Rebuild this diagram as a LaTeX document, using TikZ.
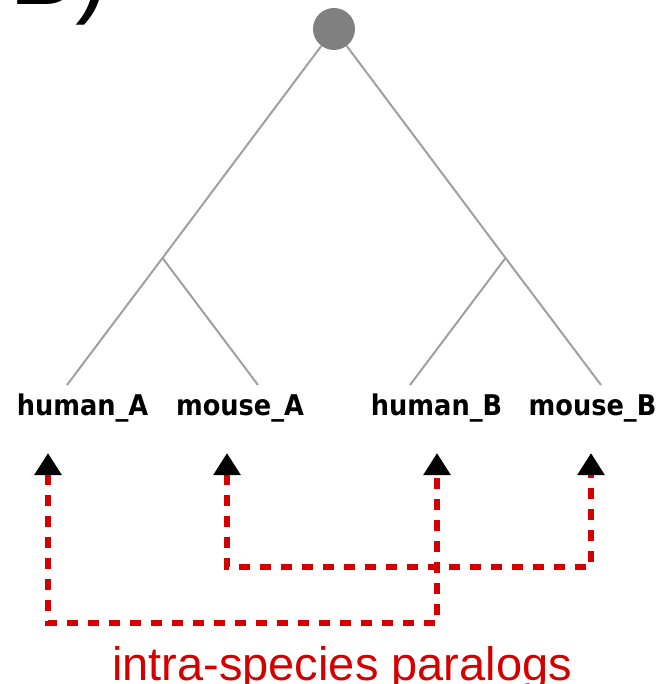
\documentclass[tikz,border=0pt]{standalone}
\usepackage{fontspec}
\setmainfont{Liberation Sans}
\newfontfamily\leaffont{DejaVu Sans Condensed}
\usepackage{xcolor}
\usepackage{tikz}
\usetikzlibrary{arrows.meta}
\usetikzlibrary{positioning}
\definecolor{paralogred}{RGB}{212,0,0}
\definecolor{branchgray}{RGB}{160,160,160}
\definecolor{rootgray}{RGB}{128,128,128}

\begin{document}
\begin{tikzpicture}[
  x=1pt, y=-1pt,
  root/.style={circle, fill=rootgray, minimum size=42pt, inner sep=0pt},
  leaf/.style={anchor=base, inner sep=0pt, font=\leaffont\bfseries\fontsize{28.5}{30}\selectfont},
  level 1/.style={level distance=229pt, sibling distance=343pt},
  level 2/.style={level distance=127pt, sibling distance=191pt},
  edge from parent/.style={draw, branchgray, line width=2pt},
  paralog/.style={draw=paralogred, line width=6pt, dash pattern=on 11pt off 10pt,
    {Triangle[width=26pt,length=22pt,black]}-{Triangle[width=26pt,length=22pt,black]}}
]
\useasboundingbox (0,0) rectangle (665,684);
\node[anchor=base west, inner sep=0pt, font=\fontsize{100}{100}\selectfont] (panel) at (9,5) {B)};

\node[root] (root) at (334,29) {}
  child { coordinate (inA)
    child { coordinate (hA) }
    child { coordinate (mA) }
  }
  child { coordinate (inB)
    child { coordinate (hB) }
    child { coordinate (mB) }
  };

\node[leaf] (labHA) at (82.5,415) {human\_A};
\node[leaf] (labMA) at (240,415) {mouse\_A};
\node[leaf] (labHB) at (436.5,415) {human\_B};
\node[leaf] (labMB) at (592.5,415) {mouse\_B};

\coordinate (tipHA) at (48,453);
\coordinate (tipMA) at (227,453);
\coordinate (tipHB) at (437,453);
\coordinate (tipMB) at (591,453);

\draw[paralog] (tipMA) -- ++(0,114) -| (tipMB);
\draw[paralog] (tipHA) -- ++(0,170) -| (tipHB);

\node[anchor=base, inner sep=0pt, text=paralogred, font=\fontsize{47}{50}\selectfont] (caption) at (342,680) {intra-species paralogs};
\end{tikzpicture}
\end{document}
